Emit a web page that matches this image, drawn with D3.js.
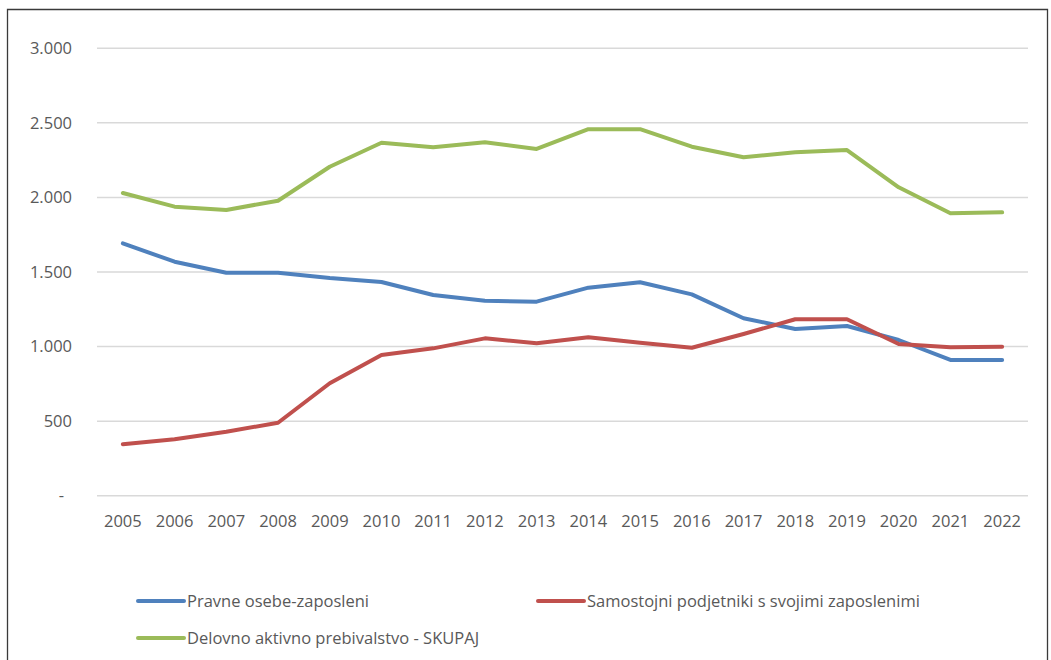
<!DOCTYPE html>
<html>
<head>
<meta charset="utf-8">
<script src="https://cdn.jsdelivr.net/npm/d3@7"></script>
<style>
  html, body { margin: 0; padding: 0; background: #fff; }
  svg { display: block; }
  text { font-family: "Open Sans", sans-serif; fill: #595959; }
</style>
</head>
<body>
<svg id="chart" width="1051" height="660"></svg>
<script>
const years = ["2005","2006","2007","2008","2009","2010","2011","2012","2013","2014","2015","2016","2017","2018","2019","2020","2021","2022"];
const seriesNames = ["Pravne osebe-zaposleni", "Samostojni podjetniki s svojimi zaposlenimi", "Delovno aktivno prebivalstvo - SKUPAJ"];
const pravneOsebe = [1692, 1569, 1495, 1495, 1460, 1433, 1346, 1307, 1301, 1395, 1431, 1350, 1190, 1118, 1138, 1044, 910, 910];
const samostojni = [345, 378, 429, 489, 754, 943, 988, 1055, 1022, 1062, 1026, 992, 1084, 1183, 1183, 1017, 995, 999];
const skupaj = [2030, 1938, 1916, 1978, 2206, 2367, 2336, 2370, 2325, 2458, 2458, 2340, 2269, 2303, 2318, 2068, 1894, 1900];
const yTicks = [0, 500, 1000, 1500, 2000, 2500, 3000];
const colors = ["#4F81BD", "#C0504D", "#9BBB59"];

const svg = d3.select("#chart");

// frame
svg.append("path")
  .attr("d", "M7.5,660 L7.5,9.5 L1047.5,9.5 L1047.5,660")
  .attr("fill", "none").attr("stroke", "#3a3a3a").attr("stroke-width", 1.3);

const x = d3.scaleBand().domain(years).range([97, 1028]).padding(0);
const y = d3.scaleLinear().domain([0, 3000]).range([495.7, 48.3]);
const fmt = v => v === 0 ? "-" : d3.format(",")(v).replace(/,/g, ".");

// gridlines
svg.append("g").selectAll("line").data(yTicks).join("line")
  .attr("x1", 97).attr("x2", 1028)
  .attr("y1", d => y(d)).attr("y2", d => y(d))
  .attr("stroke", "#d9d9d9").attr("stroke-width", 1.5);

// y axis labels
const yAxis = d3.axisLeft(y).tickValues(yTicks).tickFormat(fmt).tickSize(0).tickPadding(0);
const gy = svg.append("g").attr("transform", "translate(72,0)").call(yAxis);
gy.select(".domain").remove();
gy.selectAll("text").attr("font-size", 16.5).attr("fill", "#595959").attr("font-family", "Open Sans")
  .attr("dx", d => d === 0 ? -8 : 0);

// x axis labels
const xAxis = d3.axisBottom(x).tickSize(0).tickPadding(0);
const gx = svg.append("g").attr("transform", "translate(0,515)").call(xAxis);
gx.select(".domain").remove();
gx.selectAll("text").attr("font-size", 16.5).attr("fill", "#595959").attr("font-family", "Open Sans");

// lines
const data = [pravneOsebe, samostojni, skupaj];
const line = d3.line().x((d, i) => x(years[i]) + x.bandwidth() / 2).y(d => y(d));
svg.append("g").selectAll("path").data(data).join("path")
  .attr("d", d => line(d))
  .attr("fill", "none")
  .attr("stroke", (d, i) => colors[i])
  .attr("stroke-width", 4)
  .attr("stroke-linejoin", "round")
  .attr("stroke-linecap", "round");

// legend
const legendPos = [[138, 601], [538, 601], [138, 638]];
const lg = svg.append("g").selectAll("g").data(seriesNames).join("g")
  .attr("transform", (d, i) => `translate(${legendPos[i][0]},${legendPos[i][1]})`);
lg.append("line").attr("x1", 0).attr("x2", 46).attr("y1", 0).attr("y2", 0)
  .attr("stroke", (d, i) => colors[i]).attr("stroke-width", 4).attr("stroke-linecap", "round");
lg.append("text").attr("x", 49).attr("y", 0).attr("dy", "0.35em")
  .attr("font-size", 16.5).text(d => d);
</script>
</body>
</html>
